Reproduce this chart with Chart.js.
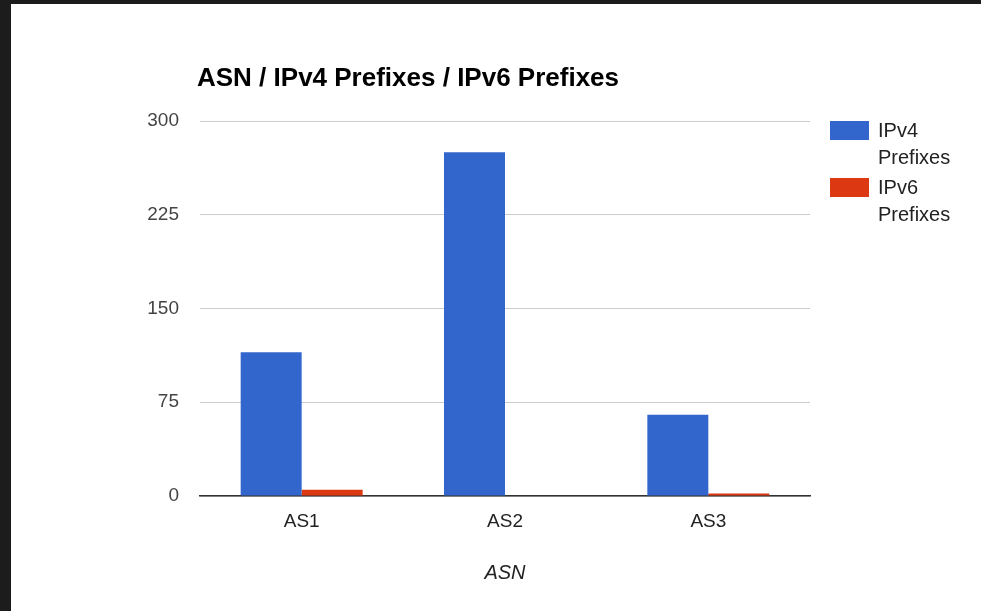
<!DOCTYPE html>
<html>
<head>
<meta charset="utf-8">
<script src="https://cdn.jsdelivr.net/npm/chart.js@4.4.1/dist/chart.umd.min.js"></script>
<style>
  html, body { margin: 0; padding: 0; background: #1c1c1c; width: 981px; height: 611px; overflow: hidden; }
  #wrap { position: absolute; left: 11px; top: 4px; width: 970px; height: 607px; background: #ffffff; }
  #c { display: block; }
</style>
</head>
<body>
<div id="wrap"><canvas id="c" width="970" height="607"></canvas></div>
<script>
const chartTitle = "ASN / IPv4 Prefixes / IPv6 Prefixes";
const categories = ["AS1", "AS2", "AS3"];
const seriesNames = ["IPv4 Prefixes", "IPv6 Prefixes"];
const ipv4Values = [115, 275, 65];
const ipv6Values = [5, 0, 2];
const yTicks = [0, 75, 150, 225, 300];
const xAxisTitle = "ASN";
const colors = ["#3366cc", "#dc3912"];

const FONT = "'Liberation Sans', Arial, sans-serif";

const customDecor = {
  id: 'customDecor',
  afterDraw(chart) {
    const ctx = chart.ctx;
    ctx.save();
    // title
    ctx.fillStyle = '#000';
    ctx.font = "bold 26px " + FONT;
    ctx.textBaseline = 'middle';
    ctx.textAlign = 'left';
    ctx.fillText(chartTitle, 186, 75);
    // legend
    const bx = 819, by = 117, bw = 39, bh = 19;
    ctx.font = "20px " + FONT;
    chart.data.datasets.forEach((ds, i) => {
      const y0 = by + i * 57;
      ctx.fillStyle = ds.backgroundColor;
      ctx.fillRect(bx, y0, bw, bh);
      ctx.fillStyle = '#222';
      const words = ds.label.split(' ');
      words.forEach((w, j) => {
        ctx.fillText(w, 867, y0 + 10 + j * 27);
      });
    });
    ctx.restore();
  }
};

new Chart(document.getElementById('c'), {
  type: 'bar',
  data: {
    labels: categories,
    datasets: [
      { label: seriesNames[0], data: ipv4Values, backgroundColor: colors[0] },
      { label: seriesNames[1], data: ipv6Values, backgroundColor: colors[1] }
    ]
  },
  options: {
    responsive: false,
    animation: false,
    devicePixelRatio: 1,
    layout: { padding: { top: 117, right: 171, bottom: 0, left: 0 } },
    datasets: { bar: { categoryPercentage: 0.6, barPercentage: 1.0, borderWidth: 0 } },
    plugins: {
      legend: { display: false },
      title: { display: false },
      tooltip: { enabled: false }
    },
    scales: {
      x: {
        grid: { display: false, drawTicks: false },
        border: { display: true, color: '#333', width: 1.5 },
        ticks: { color: '#222', font: { family: FONT, size: 19 }, padding: 14 },
        title: { display: true, text: xAxisTitle, color: '#222', font: { family: FONT, size: 20, style: 'italic' }, padding: { top: 0, bottom: 26 } },
        afterFit(scale) { scale.height = 115; }
      },
      y: {
        min: 0, max: 300,
        afterBuildTicks(scale) { scale.ticks = yTicks.map(v => ({ value: v })); },
        grid: { color: '#cccccc', lineWidth: 1, drawTicks: false },
        border: { display: false },
        ticks: { color: '#444', font: { family: FONT, size: 19 }, padding: 21 },
        afterFit(scale) { scale.width = 189; }
      }
    }
  },
  plugins: [customDecor]
});
</script>
</body>
</html>
